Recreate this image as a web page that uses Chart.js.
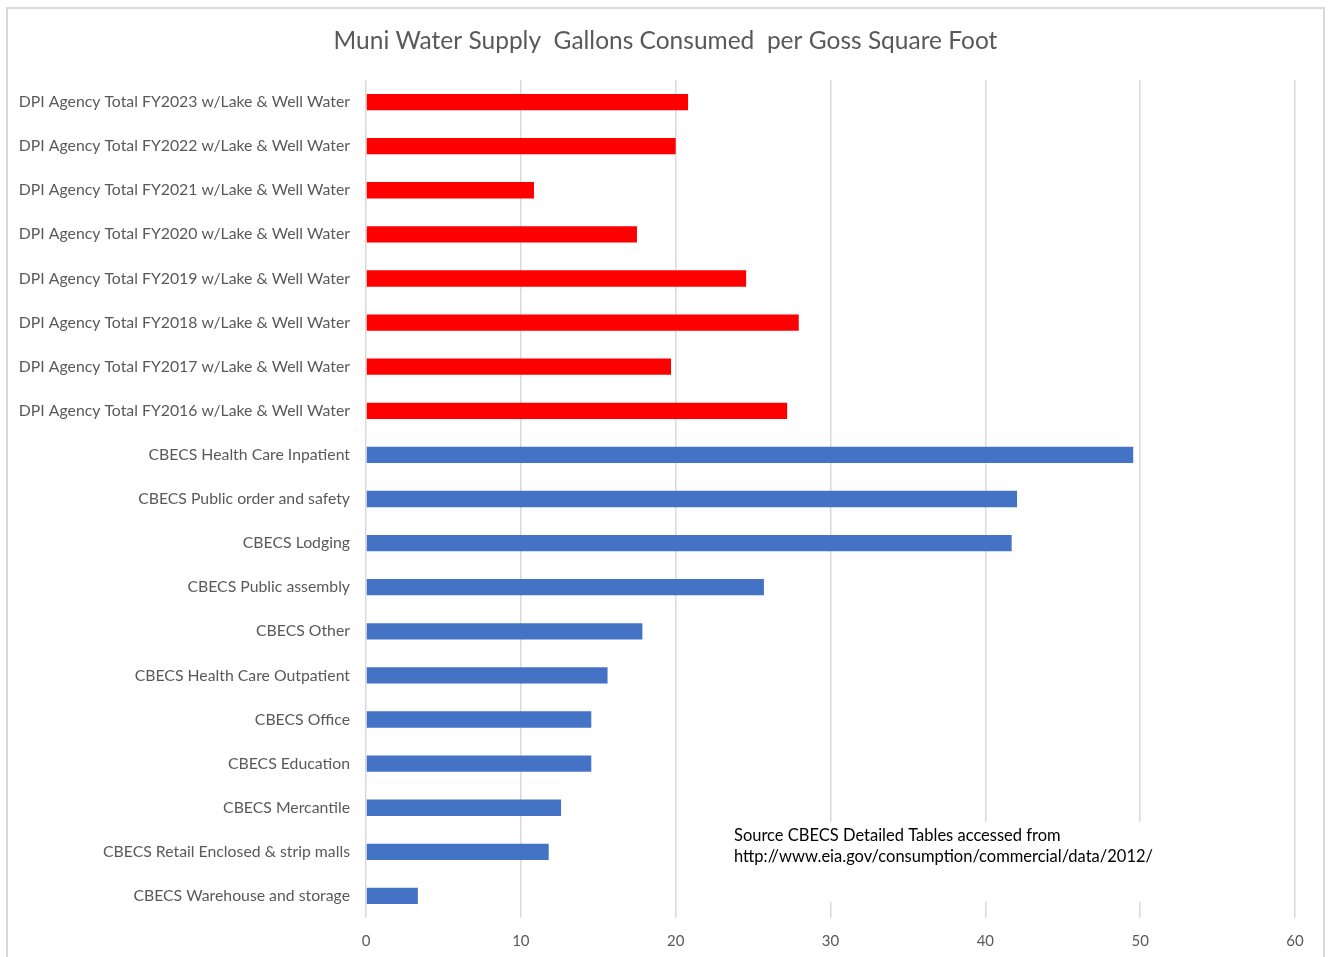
<!DOCTYPE html>
<html>
<head>
<meta charset="utf-8">
<script src="https://cdn.jsdelivr.net/npm/chart.js@4"></script>
<style>
  body { margin: 0; background: #fff; overflow: hidden; }
  .wrap { position: relative; width: 1330px; height: 957px; }
  .frame { position: absolute; left: 6px; top: 7px; width: 1319px; height: 960px; border: 2px solid #d9d9d9; box-sizing: border-box; }
  canvas { position: absolute; left: 0; top: 0; }
</style>
</head>
<body>
<div class="wrap">
  <div class="frame"></div>
  <canvas id="waterChart" width="1330" height="957"></canvas>
</div>
<script>
const categories = [
  'DPI Agency Total FY2023 w/Lake & Well Water',
  'DPI Agency Total FY2022 w/Lake & Well Water',
  'DPI Agency Total FY2021 w/Lake & Well Water',
  'DPI Agency Total FY2020 w/Lake & Well Water',
  'DPI Agency Total FY2019 w/Lake & Well Water',
  'DPI Agency Total FY2018 w/Lake & Well Water',
  'DPI Agency Total FY2017 w/Lake & Well Water',
  'DPI Agency Total FY2016 w/Lake & Well Water',
  'CBECS Health Care Inpatient',
  'CBECS Public order and safety',
  'CBECS Lodging',
  'CBECS Public assembly',
  'CBECS Other',
  'CBECS Health Care Outpatient',
  'CBECS Office',
  'CBECS Education',
  'CBECS Mercantile',
  'CBECS Retail Enclosed & strip malls',
  'CBECS Warehouse and storage'
];
const gallonsPerSqFt = [20.8, 20.0, 10.85, 17.5, 24.55, 27.95, 19.7, 27.2,
  49.55, 42.05, 41.7, 25.7, 17.85, 15.6, 14.55, 14.55, 12.6, 11.8, 3.35];
const xTicks = [0, 10, 20, 30, 40, 50, 60];
const chartTitle = 'Muni Water Supply  Gallons Consumed  per Goss Square Foot';
const sourceNote = [
  'Source CBECS Detailed Tables accessed from',
  'http://www.eia.gov/consumption/commercial/data/2012/'
];

const FONT = 'Lato, "Open Sans", sans-serif';
const barColors = categories.map(c => c.startsWith('DPI') ? '#ff0000' : '#4472c4');

// title + white box with the source note (drawn over the gridlines)
const textPlugin = {
  id: 'texts',
  afterDraw(chart) {
    const ctx = chart.ctx;
    ctx.save();
    ctx.textBaseline = 'middle';
    ctx.fillStyle = '#595959';
    ctx.font = '24.5px ' + FONT;
    ctx.textAlign = 'center';
    ctx.fillText(chartTitle, 665.5, 41);

    ctx.fillStyle = '#ffffff';
    ctx.fillRect(724, 822, 440, 80);
    ctx.fillStyle = '#000000';
    ctx.font = '16.5px ' + FONT;
    ctx.textAlign = 'left';
    ctx.fillText(sourceNote[0], 734, 836);
    ctx.fillText(sourceNote[1], 734, 857);
    ctx.restore();
  }
};

new Chart(document.getElementById('waterChart'), {
  type: 'bar',
  data: {
    labels: categories,
    datasets: [{
      data: gallonsPerSqFt,
      backgroundColor: barColors,
      categoryPercentage: 1,
      barPercentage: 0.37
    }]
  },
  plugins: [textPlugin],
  options: {
    indexAxis: 'y',
    responsive: false,
    animation: false,
    layout: { padding: { left: 10, right: 35, top: 80, bottom: 0 } },
    plugins: {
      legend: { display: false },
      tooltip: { enabled: false },
      title: { display: false }
    },
    scales: {
      x: {
        min: 0,
        max: 60,
        afterBuildTicks(scale) { scale.ticks = xTicks.map(v => ({ value: v })); },
        afterFit(scale) { scale.height = 39; },
        grid: { color: '#d9d9d9', lineWidth: 1.5, drawTicks: false },
        border: { display: false },
        ticks: { color: '#595959', font: { family: FONT, size: 15 }, padding: 14 }
      },
      y: {
        afterFit(scale) { scale.width = 356; },
        grid: { display: false },
        border: { display: false },
        ticks: { color: '#595959', font: { family: FONT, size: 15.8 }, padding: 8, autoSkip: false }
      }
    }
  }
});
</script>
</body>
</html>
